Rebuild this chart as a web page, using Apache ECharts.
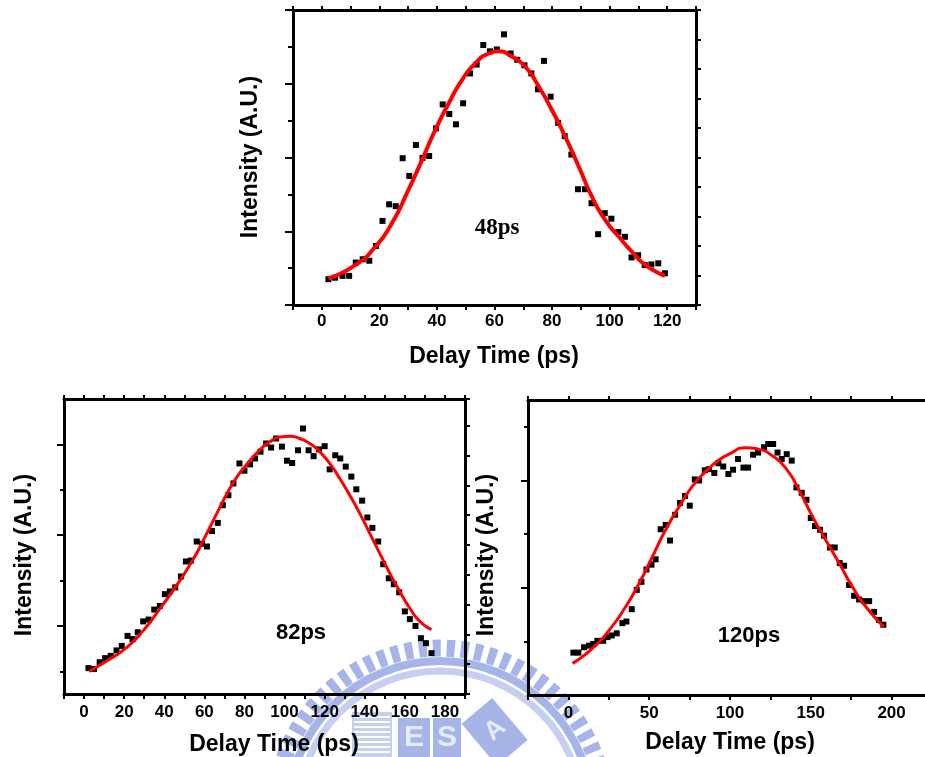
<!DOCTYPE html>
<html>
<head>
<meta charset="utf-8">
<script src="https://cdn.jsdelivr.net/npm/echarts@6/dist/echarts.min.js"></script>
<style>
html,body{margin:0;padding:0;background:#fff;}
#c{width:925px;height:757px;}
</style>
</head>
<body>
<div id="c"></div>
<script>
// ---------- Data ----------
// Top panel (48ps)
const topPtX = [2.3,4.6,7.2,9.5,11.8,14.2,16.5,18.8,21.1,23.4,25.7,28.1,30.4,32.7,35.0,37.3,39.7,42.0,44.3,46.6,49.1,51.5,53.8,56.1,58.4,60.8,63.3,65.6,67.9,70.4,72.8,75.1,77.2,79.5,82.1,84.4,86.7,89.0,91.4,93.7,96.0,98.3,100.6,103.0,105.3,107.6,109.9,112.2,114.5,116.9,119.2];
const topPtY = [0.70,0.74,0.79,0.79,1.15,1.24,1.20,1.60,2.28,2.73,2.68,3.98,3.50,4.34,3.99,4.04,4.79,5.44,5.18,4.90,5.47,6.28,6.52,7.05,6.88,6.93,7.34,6.82,6.65,6.50,6.28,5.85,6.62,5.65,4.94,4.58,4.08,3.14,3.14,2.76,1.92,2.49,2.34,1.98,1.85,1.29,1.35,1.08,1.10,1.13,0.86];
const topFitX = [2.3,11.6,18.6,24.3,30.1,34.8,39.4,44.1,48.7,53.3,58.0,61.4,66.1,70.7,75.4,80.0,84.6,89.3,93.9,98.5,103.2,107.8,112.5,119.2];
const topFitY = [0.72,1.08,1.58,2.21,3.12,3.93,4.74,5.47,6.10,6.55,6.82,6.88,6.73,6.46,5.92,5.28,4.56,3.75,2.93,2.30,1.85,1.44,1.08,0.79];

// Bottom-left panel (82ps)
const blPtX = [2.2,5.0,7.8,10.5,13.3,16.2,18.8,21.7,24.2,26.8,29.5,32.2,35.0,37.8,40.3,42.8,45.5,48.3,50.8,53.3,56.2,58.8,61.3,63.8,66.7,69.2,72.0,74.5,77.5,80.0,82.8,85.3,88.0,90.8,93.3,95.8,98.7,101.2,103.8,106.7,109.2,112.0,114.5,117.2,120.0,122.5,125.3,127.8,130.5,133.3,135.8,138.7,141.3,143.8,146.7,149.2,152.0,154.5,157.2,160.0,162.5,165.3,168.0,170.5,173.3];
const blPtY = [0.07,0.05,0.20,0.29,0.34,0.46,0.56,0.78,0.71,0.86,1.10,1.14,1.36,1.44,1.70,1.76,1.85,2.09,2.42,2.44,2.86,2.81,2.75,3.09,3.27,3.66,3.88,4.14,4.58,4.42,4.56,4.69,4.84,5.02,4.93,5.13,4.95,4.64,4.59,4.87,5.35,4.87,4.74,4.89,4.96,4.45,4.76,4.69,4.51,4.29,4.01,3.76,3.39,3.16,2.86,2.36,2.05,1.92,1.74,1.32,1.15,1.00,0.73,0.62,0.40];
const blFitX = [2.5,12.5,20.8,29.2,37.5,45.8,54.2,60.8,67.5,74.2,80.8,87.5,92.5,97.5,102.5,107.5,112.5,117.5,122.5,127.5,132.5,137.5,142.5,147.5,152.5,157.5,162.5,167.5,173.3];
const blFitY = [0.0,0.26,0.51,0.88,1.36,1.87,2.45,3.00,3.59,4.14,4.54,4.87,5.05,5.16,5.18,5.13,5.02,4.84,4.58,4.25,3.88,3.48,3.04,2.60,2.16,1.76,1.39,1.10,0.92];

// Bottom-right panel (120ps)
const brPtX = [3.1,6.2,9.7,12.8,15.3,17.9,21.5,24.2,26.8,29.9,33.4,35.9,39.2,42.3,45.2,48.3,51.4,54.0,57.1,60.2,62.9,66.0,69.1,72.2,75.1,78.2,80.9,84.4,87.0,90.3,92.8,95.8,99.0,101.9,105.0,108.3,111.2,114.3,117.4,121.1,123.6,126.7,129.4,132.0,135.1,138.2,141.1,144.4,147.3,150.0,152.6,155.7,158.2,161.9,164.8,167.9,170.6,173.7,176.8,179.9,183.0,186.1,189.2,192.2,194.9];
const brPtY = [0.79,0.79,0.89,0.92,0.95,1.01,1.01,1.08,1.11,1.15,1.34,1.37,1.60,1.96,2.11,2.34,2.43,2.53,3.09,3.17,2.88,3.36,3.58,3.71,3.53,4.02,4.00,4.19,4.21,4.14,4.32,4.26,4.12,4.20,4.40,4.24,4.24,4.48,4.52,4.62,4.68,4.68,4.52,4.40,4.49,4.37,3.87,3.77,3.64,3.30,3.15,3.08,2.97,2.75,2.75,2.46,2.41,2.05,1.85,1.78,1.75,1.75,1.55,1.40,1.31];
const brFitX = [2.5,14.9,25.2,35.5,43.7,52.0,60.2,68.5,76.7,85.0,93.2,99.4,109.7,118.0,126.2,134.5,142.7,151.0,159.2,167.5,175.7,184.0,195.3];
const brFitY = [0.59,0.87,1.21,1.65,2.08,2.58,3.08,3.51,3.89,4.17,4.38,4.49,4.61,4.58,4.46,4.23,3.82,3.33,2.89,2.46,2.02,1.65,1.27];

// Texts
const xTitle = 'Delay Time (ps)';
const yTitle = 'Intensity (A.U.)';
const panelNotes = ['48ps', '82ps', '120ps'];
// tick label values shown on the x axes
const topXLabels = [0,20,40,60,80,100,120];
const blXLabels = [0,20,40,60,80,100,120,140,160,180];
const brXLabels = [0,50,100,150,200];

// ---------- Helpers ----------
const SANS = '"Liberation Sans", Arial, sans-serif';
const zip = (a, b) => a.map((v, i) => [v, b[i]]);
const tickStyle = {color: '#000', width: 2};
const lineOn = {show: true, onZero: false, lineStyle: {color: '#000', width: 3}};
const lineOff = {show: false, onZero: false};

function xBottom(gi, min, max, interval, labels, margin) {
  return {
    type: 'value', gridIndex: gi, position: 'bottom', min, max, interval,
    axisLine: lineOn,
    axisTick: {show: true, inside: false, length: 5, lineStyle: tickStyle},
    axisLabel: {
      show: true, margin, color: '#000', fontSize: 17, fontWeight: 'bold', fontFamily: SANS,
      formatter: v => labels.indexOf(Math.round(v * 1000) / 1000) >= 0 ? String(Math.round(v)) : ''
    },
    splitLine: {show: false}
  };
}
function xTop(gi, min, max, interval) {
  return {
    type: 'value', gridIndex: gi, position: 'top', min, max, interval,
    axisLine: lineOn,
    axisTick: {show: true, inside: false, length: 4, lineStyle: tickStyle},
    axisLabel: {show: false}, splitLine: {show: false}
  };
}
function yAxisOpt(gi, pos, min, max, extra) {
  return Object.assign({
    type: 'value', gridIndex: gi, position: pos, min, max,
    axisLine: lineOn,
    axisTick: {show: true, inside: false, length: 7, lineStyle: tickStyle},
    axisLabel: {show: false}, splitLine: {show: false}
  }, extra || {});
}

const textEl = (x, y, text, size, rot, family) => ({
  type: 'text', x, y, rotation: rot || 0, z: 50,
  style: {
    text, fill: '#000', font: 'bold ' + size + 'px ' + (family || SANS),
    align: 'center', verticalAlign: 'middle', textAlign: 'center', textVerticalAlign: 'middle'
  }
});

// ---------- Watermark (faint seal behind the lower charts) ----------
const WM = '#a6b4e8';
const wm = [
  {type: 'circle', z: -10, shape: {cx: 440, cy: 813, r: 165}, style: {fill: 'none', stroke: WM, lineWidth: 17, lineDash: [8, 6]}},
  {type: 'circle', z: -10, shape: {cx: 440, cy: 813, r: 152}, style: {fill: 'none', stroke: WM, lineWidth: 8}},
  {type: 'circle', z: -10, shape: {cx: 440, cy: 813, r: 142}, style: {fill: 'none', stroke: '#c6cff1', lineWidth: 7}},
  {type: 'rect', z: -10, shape: {x: 352, y: 712, width: 40, height: 45}, style: {fill: '#c7d0f1'}},
  {type: 'rect', z: -10, shape: {x: 398, y: 718, width: 32, height: 39}, style: {fill: WM}},
  {type: 'rect', z: -10, shape: {x: 433, y: 718, width: 28, height: 39}, style: {fill: WM}},
  {type: 'rect', z: -10, x: 493, y: 730, rotation: 0.7, originX: 0, originY: 0,
   shape: {x: -20, y: -25, width: 40, height: 55}, style: {fill: WM}},
  {type: 'text', z: -9, x: 414, y: 738, style: {text: 'E', fill: '#e6ebfb', font: 'bold 30px ' + SANS, align: 'center', verticalAlign: 'middle'}},
  {type: 'text', z: -9, x: 447, y: 738, style: {text: 'S', fill: '#e6ebfb', font: 'bold 30px ' + SANS, align: 'center', verticalAlign: 'middle'}},
  {type: 'text', z: -9, x: 495, y: 730, rotation: 0.7, style: {text: 'A', fill: '#e6ebfb', font: 'bold 26px ' + SANS, align: 'center', verticalAlign: 'middle'}}
];
for (let i = 0; i < 8; i++) {
  wm.push({type: 'rect', z: -9, shape: {x: 354, y: 716 + i * 5, width: 36, height: 2}, style: {fill: '#ffffff'}});
}

// ---------- Chart ----------
const chart = echarts.init(document.getElementById('c'), null, {renderer: 'canvas', width: 925, height: 757});

const option = {
  backgroundColor: '#ffffff',
  animation: false,
  grid: [
    {left: 293, top: 10, width: 403, height: 295, outerBoundsMode: 'none', containLabel: false},
    {left: 64, top: 399, width: 401, height: 295, outerBoundsMode: 'none', containLabel: false},
    {left: 528, top: 400, width: 404, height: 295, outerBoundsMode: 'none', containLabel: false}
  ],
  xAxis: [
    xBottom(0, -10, 130, 10, topXLabels, 8),
    xTop(0, -10, 130, 10),
    xBottom(1, -10, 190, 10, blXLabels, 10),
    xTop(1, -10, 190, 10),
    xBottom(2, -25, 225, 25, brXLabels, 10),
    xTop(2, -25, 225, 25)
  ],
  yAxis: [
    // top panel
    yAxisOpt(0, 'left', 0, 8, {interval: 2, axisTick: {show: true, length: 8, lineStyle: tickStyle},
      minorTick: {show: true, splitNumber: 2, length: 5, lineStyle: tickStyle}}),
    yAxisOpt(0, 'right', 0, 8, {interval: 0.8, axisTick: {show: true, length: 5, lineStyle: tickStyle}}),
    // bottom-left panel
    yAxisOpt(1, 'left', -0.5, 6, {axisTick: {show: true, length: 7, customValues: [1, 3, 5], lineStyle: tickStyle}}),
    yAxisOpt(1, 'left', -0.5, 6, {offset: 0, axisLine: lineOff, axisTick: {show: true, length: 4, customValues: [0, 2, 4], lineStyle: tickStyle}}),
    yAxisOpt(1, 'right', 0, 9.9, {interval: 1, axisTick: {show: true, length: 5, lineStyle: tickStyle}}),
    // bottom-right panel
    yAxisOpt(2, 'left', 0, 5.5, {axisTick: {show: true, length: 7, customValues: [2, 4], lineStyle: tickStyle}}),
    yAxisOpt(2, 'left', 0, 5.5, {offset: 0, axisLine: lineOff, axisTick: {show: true, length: 4, customValues: [1, 3, 5], lineStyle: tickStyle}}),
    yAxisOpt(2, 'right', 0, 5.5, {interval: 1})
  ],
  series: [
    {type: 'scatter', xAxisIndex: 0, yAxisIndex: 0, data: zip(topPtX, topPtY), symbol: 'rect', symbolSize: 6, itemStyle: {color: '#000', opacity: 1}, z: 2},
    {type: 'line', xAxisIndex: 0, yAxisIndex: 0, data: zip(topFitX, topFitY), smooth: 0.6, showSymbol: false, lineStyle: {color: '#ff0000', width: 4}, z: 3},
    {type: 'scatter', xAxisIndex: 2, yAxisIndex: 2, data: zip(blPtX, blPtY), symbol: 'rect', symbolSize: 6, itemStyle: {color: '#000', opacity: 1}, z: 2},
    {type: 'line', xAxisIndex: 2, yAxisIndex: 2, data: zip(blFitX, blFitY), smooth: 0.6, showSymbol: false, lineStyle: {color: '#ff0000', width: 3}, z: 3},
    {type: 'scatter', xAxisIndex: 4, yAxisIndex: 5, data: zip(brPtX, brPtY), symbol: 'rect', symbolSize: 6, itemStyle: {color: '#000', opacity: 1}, z: 2},
    {type: 'line', xAxisIndex: 4, yAxisIndex: 5, data: zip(brFitX, brFitY), smooth: 0.6, showSymbol: false, lineStyle: {color: '#ff0000', width: 3}, z: 3}
  ],
  graphic: {
    elements: wm.concat([
      textEl(251, 157, yTitle, 23, Math.PI / 2),
      textEl(494, 357, xTitle, 23),
      textEl(497, 228, panelNotes[0], 23, 0, '"Liberation Serif", "Times New Roman", serif'),
      textEl(25, 555, yTitle, 23, Math.PI / 2),
      textEl(274, 745, xTitle, 23),
      textEl(301, 633, panelNotes[1], 22),
      textEl(487, 555, yTitle, 23, Math.PI / 2),
      textEl(730, 743, xTitle, 23),
      textEl(749, 636, panelNotes[2], 22)
    ])
  }
};
chart.setOption(option);
</script>
</body>
</html>
